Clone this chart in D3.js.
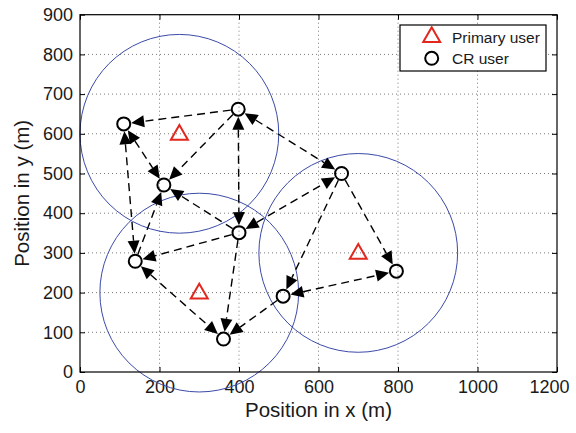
<!DOCTYPE html>
<html>
<head>
<meta charset="utf-8">
<script src="https://cdn.jsdelivr.net/npm/d3@7"></script>
<style>
  body { margin: 0; background: #fff; }
  svg { font-family: "Liberation Sans", Arial, sans-serif; }
</style>
</head>
<body>
<svg id="chart" width="576" height="433"></svg>
<script>
// primary users (coverage circles centred on them)
var puX = [250, 300, 700];
var puY = [600, 200, 300];
var puRadius = [250, 250, 250];

// CR users
var crX = [110, 398, 211, 400, 139, 361, 511, 658, 796];
var crY = [625, 662, 471, 351, 279, 83, 191, 500, 254];

// links between CR users: from -> to, both = arrow at both ends
var linkFrom = [1, 1, 0, 0, 1, 3, 1, 4, 3, 4, 3, 6, 3, 7, 6, 7];
var linkTo   = [0, 7, 2, 4, 2, 2, 3, 2, 4, 5, 5, 5, 7, 8, 8, 6];
var linkBoth = [0, 1, 1, 1, 0, 0, 1, 0, 0, 1, 0, 0, 1, 0, 1, 0];

var xTicks = [0, 200, 400, 600, 800, 1000, 1200];
var yTicks = [0, 100, 200, 300, 400, 500, 600, 700, 800, 900];

var svg = d3.select("#chart"),
    pLeft = 80, pRight = 557, pTop = 14.7, pBottom = 372;

var x = d3.scaleLinear().domain([0, 1200]).range([pLeft, pRight]);
var y = d3.scaleLinear().domain([0, 900]).range([pBottom, pTop]);

// grid
var grid = svg.append("g")
    .attr("stroke", "#7a7a7a")
    .attr("stroke-width", 1)
    .attr("stroke-dasharray", "1,3");
grid.selectAll("line.gx")
    .data(xTicks.slice(1, -1))
    .enter().append("line")
    .attr("x1", function (d) { return x(d); })
    .attr("x2", function (d) { return x(d); })
    .attr("y1", pTop).attr("y2", pBottom);
grid.selectAll("line.gy")
    .data(yTicks.slice(1, -1))
    .enter().append("line")
    .attr("y1", function (d) { return y(d); })
    .attr("y2", function (d) { return y(d); })
    .attr("x1", pLeft).attr("x2", pRight);

// axes
function styleAxis(g) {
    g.select(".domain").remove();
    g.selectAll(".tick line").attr("stroke", "#000");
    g.selectAll(".tick text").attr("fill", "#1a1a1a").style("font-size", "18px");
}
var xAxisG = svg.append("g")
    .attr("transform", "translate(0," + pBottom + ")")
    .call(d3.axisBottom(x).tickValues(xTicks).tickFormat(d3.format("d"))
        .tickSizeInner(-5).tickSizeOuter(0).tickPadding(8))
    .call(styleAxis);
// last label pulled in so it stays inside the figure
xAxisG.selectAll(".tick text").filter(function (d) { return d === 1200; }).attr("dx", -8);
svg.append("g")
    .attr("transform", "translate(" + pLeft + ",0)")
    .call(d3.axisLeft(y).tickValues(yTicks).tickFormat(d3.format("d"))
        .tickSizeInner(-5).tickSizeOuter(0).tickPadding(7))
    .call(styleAxis);
svg.append("g")
    .attr("transform", "translate(0," + pTop + ")")
    .call(d3.axisTop(x).tickValues(xTicks).tickSizeInner(-5).tickSizeOuter(0).tickFormat(""))
    .call(styleAxis);
svg.append("g")
    .attr("transform", "translate(" + pRight + ",0)")
    .call(d3.axisRight(y).tickValues(yTicks).tickSizeInner(-5).tickSizeOuter(0).tickFormat(""))
    .call(styleAxis);

// coverage circles
svg.append("g").selectAll("circle")
    .data(puX)
    .enter().append("circle")
    .attr("cx", function (d, i) { return x(puX[i]); })
    .attr("cy", function (d, i) { return y(puY[i]); })
    .attr("r", function (d, i) { return x(puRadius[i]) - x(0); })
    .attr("fill", "none")
    .attr("stroke", "#3b4aa8")
    .attr("stroke-width", 1);

// links
var nodeR = 7.5, headLen = 13, headW = 6;
var links = svg.append("g");
linkFrom.forEach(function (f, i) {
    var t = linkTo[i];
    var x1 = x(crX[f]), y1 = y(crY[f]), x2 = x(crX[t]), y2 = y(crY[t]);
    var len = Math.sqrt((x2 - x1) * (x2 - x1) + (y2 - y1) * (y2 - y1));
    var ux = (x2 - x1) / len, uy = (y2 - y1) / len;
    var s = linkBoth[i] ? nodeR + headLen : nodeR;
    var e = nodeR + headLen;
    links.append("line")
        .attr("x1", x1 + ux * s).attr("y1", y1 + uy * s)
        .attr("x2", x2 - ux * e).attr("y2", y2 - uy * e)
        .attr("stroke", "#000")
        .attr("stroke-width", 1.4)
        .attr("stroke-dasharray", "8,5");

    function head(cx, cy, dx, dy) {
        // tip at node edge, pointing along (dx,dy)
        var tx = cx - dx * nodeR, ty = cy - dy * nodeR;
        var bx = tx - dx * headLen, by = ty - dy * headLen;
        var pts = [[tx, ty], [bx - dy * headW, by + dx * headW], [bx + dy * headW, by - dx * headW]];
        links.append("path")
            .attr("d", "M" + pts.join("L") + "Z")
            .attr("fill", "#000");
    }
    head(x2, y2, ux, uy);
    if (linkBoth[i]) head(x1, y1, -ux, -uy);
});

// primary users
var tri = d3.symbol().type(d3.symbolTriangle).size(125);
svg.append("g").selectAll("path")
    .data(puX)
    .enter().append("path")
    .attr("d", tri)
    .attr("transform", function (d, i) { return "translate(" + x(puX[i]) + "," + (y(puY[i]) + 1) + ")"; })
    .attr("fill", "none")
    .attr("stroke", "#e2271e")
    .attr("stroke-width", 2);

// CR users
svg.append("g").selectAll("circle")
    .data(crX)
    .enter().append("circle")
    .attr("cx", function (d, i) { return x(crX[i]); })
    .attr("cy", function (d, i) { return y(crY[i]); })
    .attr("r", 6.5)
    .attr("fill", "none")
    .attr("stroke", "#000")
    .attr("stroke-width", 2);

// frame
svg.append("rect")
    .attr("x", pLeft).attr("y", pTop)
    .attr("width", pRight - pLeft).attr("height", pBottom - pTop)
    .attr("fill", "none")
    .attr("stroke", "#000")
    .attr("stroke-width", 1.2);

// axis labels
svg.append("text")
    .attr("x", (pLeft + pRight) / 2).attr("y", 417)
    .attr("text-anchor", "middle")
    .style("font-size", "20.5px")
    .attr("fill", "#1a1a1a")
    .text("Position in x (m)");
svg.append("text")
    .attr("transform", "translate(29," + (pTop + pBottom) / 2 + ") rotate(-90)")
    .attr("text-anchor", "middle")
    .style("font-size", "20.5px")
    .attr("fill", "#1a1a1a")
    .text("Position in y (m)");

// legend
var legend = svg.append("g");
legend.append("rect")
    .attr("x", 400).attr("y", 25).attr("width", 146).attr("height", 46)
    .attr("fill", "#fff").attr("stroke", "#000").attr("stroke-width", 1.2);
legend.append("path")
    .attr("d", tri)
    .attr("transform", "translate(431.7,37)")
    .attr("fill", "none").attr("stroke", "#e2271e").attr("stroke-width", 2);
legend.append("circle")
    .attr("cx", 431.7).attr("cy", 58.3).attr("r", 6.5)
    .attr("fill", "none").attr("stroke", "#000").attr("stroke-width", 2);
legend.append("text")
    .attr("x", 452).attr("y", 42.7)
    .style("font-size", "15.5px").attr("fill", "#1a1a1a")
    .text("Primary user");
legend.append("text")
    .attr("x", 452).attr("y", 63.5)
    .style("font-size", "15.5px").attr("fill", "#1a1a1a")
    .text("CR user");
</script>
</body>
</html>
